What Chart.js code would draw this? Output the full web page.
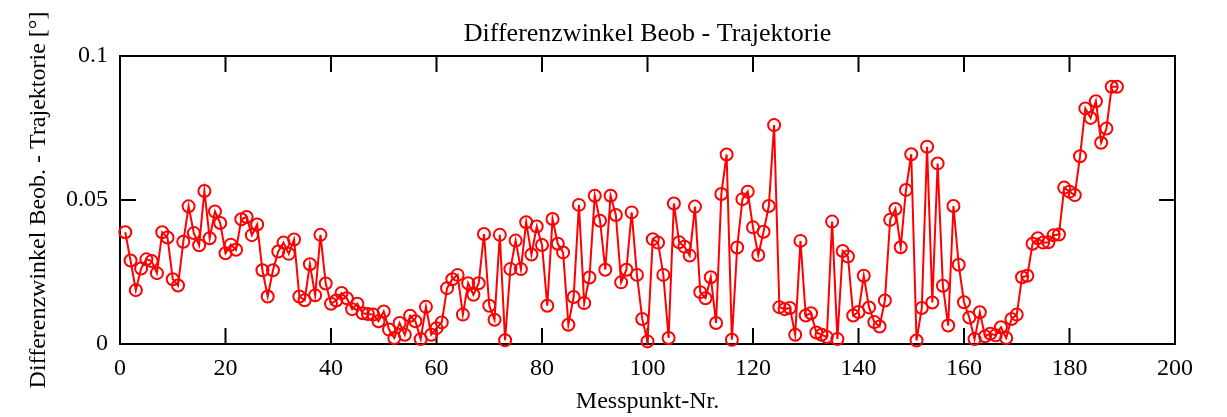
<!DOCTYPE html>
<html>
<head>
<meta charset="utf-8">
<script src="https://cdn.jsdelivr.net/npm/chart.js@4.4.0/dist/chart.umd.min.js"></script>
<style>
  html, body { margin: 0; padding: 0; background: #fff; }
  #box { width: 1227px; height: 417px; }
</style>
</head>
<body>
<div id="box"><canvas id="winkel-chart"></canvas></div>
<script>
// Differenzwinkel je Messpunkt (Nr. 1 .. 189)
const winkel = [
  0.0388, 0.0290, 0.0187, 0.0262, 0.0294, 0.0288, 0.0246, 0.0388, 0.0370, 0.0225,
  0.0203, 0.0355, 0.0478, 0.0385, 0.0343, 0.0531, 0.0367, 0.0460, 0.0420, 0.0315,
  0.0345, 0.0327, 0.0433, 0.0441, 0.0378, 0.0415, 0.0256, 0.0165, 0.0256, 0.0321,
  0.0352, 0.0313, 0.0363, 0.0165, 0.0152, 0.0277, 0.0169, 0.0379, 0.0210, 0.0140,
  0.0151, 0.0177, 0.0159, 0.0121, 0.0140, 0.0107, 0.0104, 0.0102, 0.0079, 0.0113,
  0.0050, 0.0021, 0.0073, 0.0032, 0.0098, 0.0079, 0.0017, 0.0129, 0.0032, 0.0055,
  0.0075, 0.0194, 0.0225, 0.0240, 0.0102, 0.0211, 0.0171, 0.0211, 0.0382, 0.0133,
  0.0084, 0.0379, 0.0013, 0.0260, 0.0359, 0.0260, 0.0423, 0.0311, 0.0408, 0.0344,
  0.0133, 0.0434, 0.0348, 0.0318, 0.0067, 0.0163, 0.0483, 0.0142, 0.0231, 0.0515,
  0.0428, 0.0258, 0.0515, 0.0448, 0.0214, 0.0258, 0.0457, 0.0240, 0.0087, 0.0009,
  0.0364, 0.0352, 0.0240, 0.0021, 0.0488, 0.0353, 0.0338, 0.0307, 0.0477, 0.0180,
  0.0159, 0.0232, 0.0073, 0.0521, 0.0658, 0.0015, 0.0335, 0.0503, 0.0529, 0.0405,
  0.0309, 0.0390, 0.0479, 0.0760, 0.0128, 0.0121, 0.0125, 0.0032, 0.0358, 0.0099,
  0.0107, 0.0040, 0.0032, 0.0024, 0.0425, 0.0017, 0.0323, 0.0304, 0.0099, 0.0111,
  0.0237, 0.0127, 0.0076, 0.0061, 0.0151, 0.0431, 0.0469, 0.0336, 0.0535, 0.0659,
  0.0012, 0.0125, 0.0685, 0.0144, 0.0627, 0.0202, 0.0064, 0.0479, 0.0275, 0.0145,
  0.0092, 0.0017, 0.0110, 0.0027, 0.0036, 0.0030, 0.0058, 0.0021, 0.0087, 0.0102,
  0.0232, 0.0237, 0.0348, 0.0367, 0.0352, 0.0353, 0.0378, 0.0380, 0.0543, 0.0529,
  0.0517, 0.0652, 0.0818, 0.0785, 0.0843, 0.0699, 0.0748, 0.0893, 0.0893
];

const xTicks = [0, 20, 40, 60, 80, 100, 120, 140, 160, 180, 200];
const yTicks = [0, 0.05, 0.1];

const titel = 'Differenzwinkel Beob - Trajektorie';
const xTitel = 'Messpunkt-Nr.';
const yTitel = 'Differenzwinkel Beob. - Trajektorie [°]';

const schrift = 'Liberation Serif, Times New Roman, serif';

// Rahmen mit nach innen zeigenden Ticks (gnuplot-Stil) + Titel über der Plotmitte
const rahmen = {
  id: 'rahmen',
  beforeDatasetsDraw(chart) {
    const { ctx, chartArea: a, scales: { x, y } } = chart;
    ctx.save();
    ctx.strokeStyle = '#000';
    ctx.lineWidth = 2;
    ctx.strokeRect(a.left, a.top, a.right - a.left, a.bottom - a.top);
    ctx.beginPath();
    xTicks.forEach(t => {
      const px = x.getPixelForValue(t);
      ctx.moveTo(px, a.bottom); ctx.lineTo(px, a.bottom - 16);
      ctx.moveTo(px, a.top); ctx.lineTo(px, a.top + 16);
    });
    yTicks.forEach(t => {
      const py = y.getPixelForValue(t);
      ctx.moveTo(a.left, py); ctx.lineTo(a.left + 16, py);
      ctx.moveTo(a.right, py); ctx.lineTo(a.right - 16, py);
    });
    ctx.stroke();

    ctx.fillStyle = '#000';
    ctx.font = '26px ' + schrift;
    ctx.textAlign = 'center';
    ctx.textBaseline = 'middle';
    ctx.fillText(titel, (a.left + a.right) / 2, 34);
    ctx.restore();
  }
};

var ctx = document.getElementById('winkel-chart').getContext('2d');
var chart = new Chart(ctx, {
  type: 'line',
  data: {
    datasets: [{
      data: winkel.map((w, i) => ({ x: i + 1, y: w })),
      borderColor: '#ff0000',
      borderWidth: 2,
      pointStyle: 'circle',
      pointRadius: 6,
      pointBorderWidth: 2,
      pointBorderColor: '#ff0000',
      pointBackgroundColor: 'rgba(0,0,0,0)',
      tension: 0,
      clip: false
    }]
  },
  options: {
    responsive: true,
    maintainAspectRatio: false,
    animation: false,
    layout: { padding: { top: 56, right: 52, bottom: 0, left: 0 } },
    plugins: {
      legend: { display: false },
      tooltip: { enabled: false },
      title: { display: false }
    },
    scales: {
      x: {
        type: 'linear',
        min: 0,
        max: 200,
        grid: { display: false, drawTicks: false },
        border: { display: false },
        afterBuildTicks: s => { s.ticks = xTicks.map(v => ({ value: v })); },
        afterFit: s => { s.height = 73; },
        ticks: {
          color: '#000',
          padding: 10,
          maxRotation: 0,
          font: { family: schrift, size: 24 }
        },
        title: {
          display: true,
          text: xTitel,
          color: '#000',
          font: { family: schrift, size: 24 },
          padding: { top: 0, bottom: 1 }
        }
      },
      y: {
        min: 0,
        max: 0.1,
        grid: { display: false, drawTicks: false },
        border: { display: false },
        afterBuildTicks: s => { s.ticks = yTicks.map(v => ({ value: v })); },
        afterFit: s => { s.width = 120; },
        ticks: {
          color: '#000',
          padding: 12,
          font: { family: schrift, size: 24 },
          callback: v => String(v)
        },
        title: {
          display: true,
          text: yTitel,
          color: '#000',
          font: { family: schrift, size: 24 },
          padding: { top: 24, bottom: 0 }
        }
      }
    }
  },
  plugins: [rahmen]
});
</script>
</body>
</html>
